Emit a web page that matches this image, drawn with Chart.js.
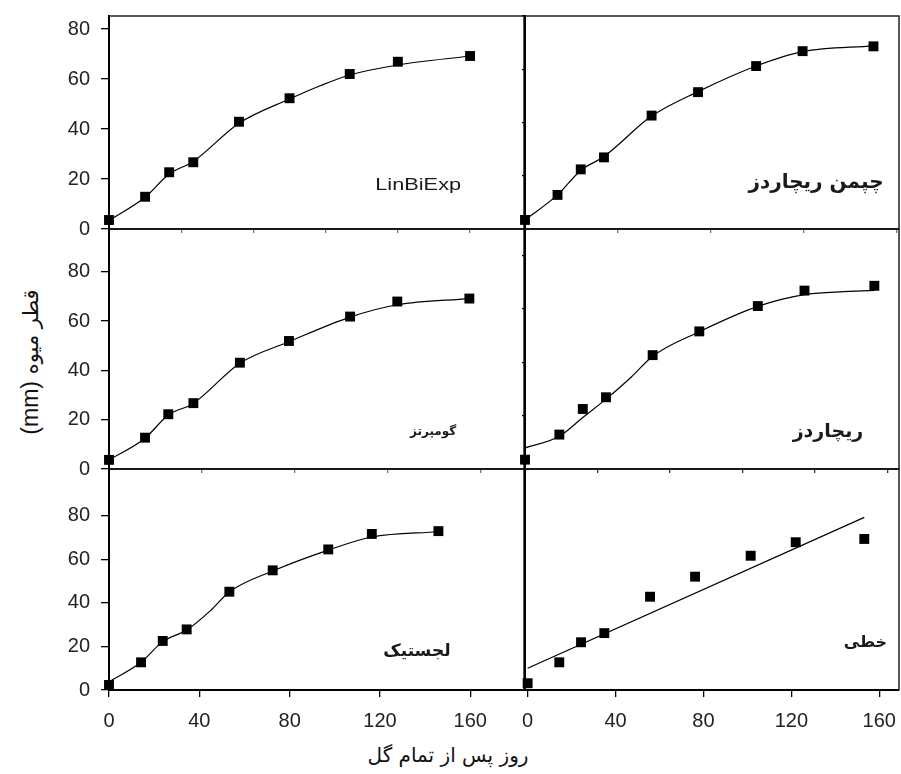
<!DOCTYPE html>
<html>
<head>
<meta charset="utf-8">
<script src="https://cdn.jsdelivr.net/npm/chart.js@4/dist/chart.umd.min.js"></script>
<style>
  html, body { margin: 0; padding: 0; background: #fff; }
  #wrap { position: relative; width: 901px; height: 774px; overflow: hidden; background: #fff; }
  #wrap canvas { position: absolute; }
  .ytitle { position: absolute; left: 30px; top: 362px; transform: translate(-50%, -50%) rotate(-90deg);
            white-space: nowrap; direction: rtl; color: #111; font-family: 'DejaVu Sans'; font-size: 21px; }
  .ytitle .mm { font-family: 'Liberation Sans'; font-size: 23px; }
  .xtitle { position: absolute; left: 448px; top: 755px; transform: translate(-50%, -50%);
            white-space: nowrap; direction: rtl; color: #111; font-family: 'DejaVu Sans'; font-size: 20px; }
</style>
</head>
<body>
<div id="wrap">
  <div class="ytitle">قطر میوه <span class="mm">(mm)</span></div>
  <div class="xtitle">روز پس از تمام گل</div>
</div>
<script>
// ---------- tick values ----------
const yTicks = [0, 20, 40, 60, 80];
const xTicks40 = [0, 40, 80, 120, 160];
const xTicks30 = [0, 30, 60, 90, 120, 150];

// ---------- panel names ----------
const panelNames = ['LinBiExp', 'چپمن ریچاردز', 'گومپرتز', 'ریچاردز', 'لجستیک', 'خطی'];

// ---------- LinBiExp (top-left) ----------
const tlDays    = [0, 15, 25, 35, 54, 75, 100, 120, 150];
const tlObs     = [3.6, 12.9, 22.7, 26.7, 42.9, 52.3, 62.0, 66.9, 69.2];
const tlFitDays = [0, 15, 25, 35, 54, 75, 88, 100, 120, 150];
const tlFit     = [3.4, 12.7, 22.0, 27.0, 42.3, 52.0, 57.4, 61.6, 65.6, 69.2];

// ---------- Chapman-Richards (top-right) ----------
const trDays    = [0, 14, 24, 34, 54.5, 74.5, 99.5, 119.5, 150];
const trObs     = [3.4, 12.8, 22.4, 26.9, 42.6, 51.4, 61.2, 66.8, 68.6];
const trFitDays = [0, 14, 24, 34, 54.5, 74.5, 99.5, 119.5, 150];
const trFit     = [3.4, 12.8, 22.0, 27.2, 42.4, 51.6, 61.2, 66.6, 68.8];

// ---------- Gompertz (middle-left) ----------
const mlDays    = [0, 15.5, 25.5, 36.3, 56.3, 77.4, 103.7, 124, 155];
const mlObs     = [3.7, 12.7, 22.2, 26.7, 43.1, 51.9, 61.8, 67.9, 69.1];
const mlFitDays = [0, 15.5, 25.5, 36.3, 56.3, 77.4, 103.7, 124, 155];
const mlFit     = [3.7, 12.5, 21.9, 26.6, 42.9, 51.6, 61.6, 66.6, 69.1];

// ---------- Richards (middle-right) ----------
const mrDays    = [0, 14.2, 23.9, 33.5, 52.8, 72.1, 96.3, 115.6, 144.5];
const mrObs     = [3.5, 12.9, 22.5, 26.9, 42.7, 51.6, 61.1, 66.9, 68.7];
const mrFitDays = [0, 14.2, 23.9, 33.5, 44, 52.8, 72.1, 96.3, 115.6, 130, 144.5];
const mrFit     = [7.9, 12.3, 19.3, 26.2, 34.5, 42.3, 51.5, 61.0, 65.4, 66.4, 67.0];

// ---------- Logistic (bottom-left) ----------
const blDays    = [0, 14.2, 23.8, 34.4, 53.3, 72.5, 97.1, 116.4, 145.9];
const blObs     = [2.3, 12.7, 22.5, 27.8, 45.1, 54.9, 64.5, 71.6, 72.9];
const blFitDays = [0, 14.2, 23.8, 34.4, 44.7, 53.3, 72.5, 97.1, 116.4, 145.9];
const blFit     = [3.8, 12.7, 22.2, 27.5, 36.2, 45.0, 54.6, 64.2, 70.2, 72.6];

// ---------- Linear (bottom-right) ----------
const brDays    = [0, 14.4, 24.3, 34.9, 55.7, 76.2, 101.5, 122, 153.2];
const brObs     = [3.1, 12.7, 21.9, 26.1, 42.8, 52.0, 61.6, 67.8, 69.3];
const brFitDays = [0, 153.2];
const brFit     = [10.0, 79.2];

// ---------- plugins ----------
const framePlugin = {
  id: 'frame',
  afterDraw(chart) {
    const { ctx, chartArea: a } = chart;
    ctx.save();
    ctx.strokeStyle = '#222';
    ctx.lineWidth = 1.5;
    ctx.beginPath();
    ctx.moveTo(a.left, a.top);
    ctx.lineTo(a.right, a.top);
    ctx.lineTo(a.right, a.bottom);
    ctx.stroke();
    ctx.restore();
  }
};
const labelPlugin = {
  id: 'panelLabel',
  afterDraw(chart, args, opts) {
    const { ctx, chartArea: a } = chart;
    ctx.save();
    ctx.font = opts.font;
    ctx.fillStyle = '#1a1a1a';
    ctx.textAlign = 'center';
    ctx.textBaseline = 'middle';
    ctx.direction = opts.rtl ? 'rtl' : 'ltr';
    const x = a.left + opts.fx * (a.right - a.left);
    const y = a.top + opts.fy * (a.bottom - a.top);
    ctx.translate(x, y);
    ctx.scale(opts.sx || 1, 1);
    ctx.fillText(opts.text, 0, 0);
    ctx.restore();
  }
};

const wrap = document.getElementById('wrap');
const LATIN = "'Liberation Sans', Arial, sans-serif";

function makePanel(p) {
  const L = p.padL, T = 12, R = p.padR, B = p.padB;
  const fw = p.frame[2] - p.frame[0], fh = p.frame[3] - p.frame[1];
  const w = fw + L + R, h = fh + T + B;
  const c = document.createElement('canvas');
  c.width = w; c.height = h;
  c.style.left = (p.frame[0] - L) + 'px';
  c.style.top = (p.frame[1] - T) + 'px';
  c.style.width = w + 'px'; c.style.height = h + 'px';
  wrap.appendChild(c);
  const obsPts = p.days.map((d, i) => ({ x: d, y: p.obs[i] }));
  const fitPts = p.fitDays.map((d, i) => ({ x: d, y: p.fit[i] }));
  const pad = { left: 0, top: T, right: R, bottom: 0 };
  const chart = new Chart(c, {
    type: 'scatter',
    data: {
      datasets: [
        { label: 'observed', data: obsPts, showLine: false, pointStyle: 'rect', pointRadius: 7,
          pointHoverRadius: 7, backgroundColor: '#000', borderColor: '#000', borderWidth: 0, clip: false },
        { label: 'fit', data: fitPts, showLine: true, pointRadius: 0, pointHoverRadius: 0,
          borderColor: '#000', borderWidth: 1.2, cubicInterpolationMode: 'monotone', fill: false }
      ]
    },
    options: {
      responsive: false, animation: false, devicePixelRatio: 1, events: [],
      layout: { autoPadding: false, padding: Object.assign({}, pad) },
      plugins: {
        legend: { display: false }, tooltip: { enabled: false },
        panelLabel: { text: p.label, fx: p.fx, fy: p.fy, font: p.font, rtl: p.rtl, sx: p.sx }
      },
      scales: {
        x: {
          type: 'linear', min: p.xMin, max: p.xMax,
          afterBuildTicks: s => { s.ticks = p.xTicks.map(v => ({ value: v })); },
          afterFit: s => { s.height = B; s.paddingLeft = 0; s.paddingRight = 0; },
          grid: { drawOnChartArea: false, drawTicks: true, tickLength: p.xTickLen, color: p.xTickColor, lineWidth: 1.3 },
          border: { display: true, color: '#000', width: 2 },
          ticks: { display: p.xLabels, autoSkip: false, maxRotation: 0, padding: 12,
                   font: { family: LATIN, size: 20 }, color: '#222' }
        },
        y: {
          type: 'linear', min: 0, max: p.yMax,
          afterBuildTicks: s => { s.ticks = yTicks.map(v => ({ value: v })); },
          afterFit: s => { s.width = L; s.paddingTop = 0; s.paddingBottom = 0; },
          grid: { drawOnChartArea: false, drawTicks: p.yTickLen > 0, tickLength: p.yTickLen, color: '#000', lineWidth: 1.3 },
          border: { display: true, color: '#000', width: 2 },
          ticks: { display: p.yLabels, autoSkip: false, padding: 11,
                   font: { family: LATIN, size: 20 }, color: '#222' }
        }
      }
    },
    plugins: [framePlugin, labelPlugin]
  });
  // nudge the layout padding so that the plotting area lands exactly on the panel frame
  for (let k = 0; k < 4; k++) {
    const a = chart.chartArea;
    const dl = L - a.left, dt = T - a.top, dr = a.right - (w - R), db = a.bottom - (h - B);
    if (Math.abs(dl) + Math.abs(dt) + Math.abs(dr) + Math.abs(db) < 0.5) break;
    pad.left += dl; pad.top += dt; pad.right += dr; pad.bottom += db;
    chart.options.layout.padding = Object.assign({}, pad);
    chart.update('none');
  }
}

const PF = s => "bold " + s + "px 'DejaVu Sans'";
const panels = [
  { frame: [109, 16, 524, 229], padL: 109, padR: 6, padB: 14, days: tlDays, obs: tlObs, fitDays: tlFitDays, fit: tlFit,
    xMin: 0, xMax: 172.4, xTicks: xTicks30, yMax: 85.2, xLabels: false, yLabels: true, xTickLen: 4, yTickLen: 8,
    xTickColor: '#777', label: panelNames[0], fx: 0.745, fy: 0.793, font: "17px " + LATIN, rtl: false, sx: 1.28 },
  { frame: [525, 16, 899, 229], padL: 12, padR: 2, padB: 14, days: trDays, obs: trObs, fitDays: trFitDays, fit: trFit,
    xMin: 0, xMax: 161, xTicks: xTicks40, yMax: 80, xLabels: false, yLabels: false, xTickLen: 4, yTickLen: 3,
    xTickColor: '#777', label: panelNames[1], fx: 0.778, fy: 0.784, font: PF(20), rtl: true },
  { frame: [109, 229, 524, 469], padL: 109, padR: 6, padB: 14, days: mlDays, obs: mlObs, fitDays: mlFitDays, fit: mlFit,
    xMin: 0, xMax: 178.5, xTicks: xTicks40, yMax: 97.3, xLabels: false, yLabels: true, xTickLen: 4, yTickLen: 8,
    xTickColor: '#777', label: panelNames[2], fx: 0.781, fy: 0.846, font: PF(12), rtl: true },
  { frame: [525, 229, 899, 469], padL: 12, padR: 2, padB: 14, days: mrDays, obs: mrObs, fitDays: mrFitDays, fit: mrFit,
    xMin: 0, xMax: 154.7, xTicks: xTicks30, yMax: 90, xLabels: false, yLabels: false, xTickLen: 4, yTickLen: 3,
    xTickColor: '#333', label: panelNames[3], fx: 0.81, fy: 0.846, font: PF(19), rtl: true },
  { frame: [109, 469, 524, 690], padL: 109, padR: 6, padB: 50, days: blDays, obs: blObs, fitDays: blFitDays, fit: blFit,
    xMin: 0, xMax: 183.8, xTicks: xTicks40, yMax: 101.4, xLabels: true, yLabels: true, xTickLen: 7, yTickLen: 8,
    xTickColor: '#000', label: panelNames[4], fx: 0.742, fy: 0.828, font: PF(17), rtl: true },
  { frame: [525, 469, 899, 690], padL: 12, padR: 2, padB: 50, days: brDays, obs: brObs, fitDays: brFitDays, fit: brFit,
    xMin: -1.2, xMax: 169, xTicks: xTicks40, yMax: 101.4, xLabels: true, yLabels: false, xTickLen: 7, yTickLen: 0,
    xTickColor: '#000', label: panelNames[5], fx: 0.91, fy: 0.787, font: PF(16), rtl: true }
];
panels.forEach(makePanel);
</script>
</body>
</html>
